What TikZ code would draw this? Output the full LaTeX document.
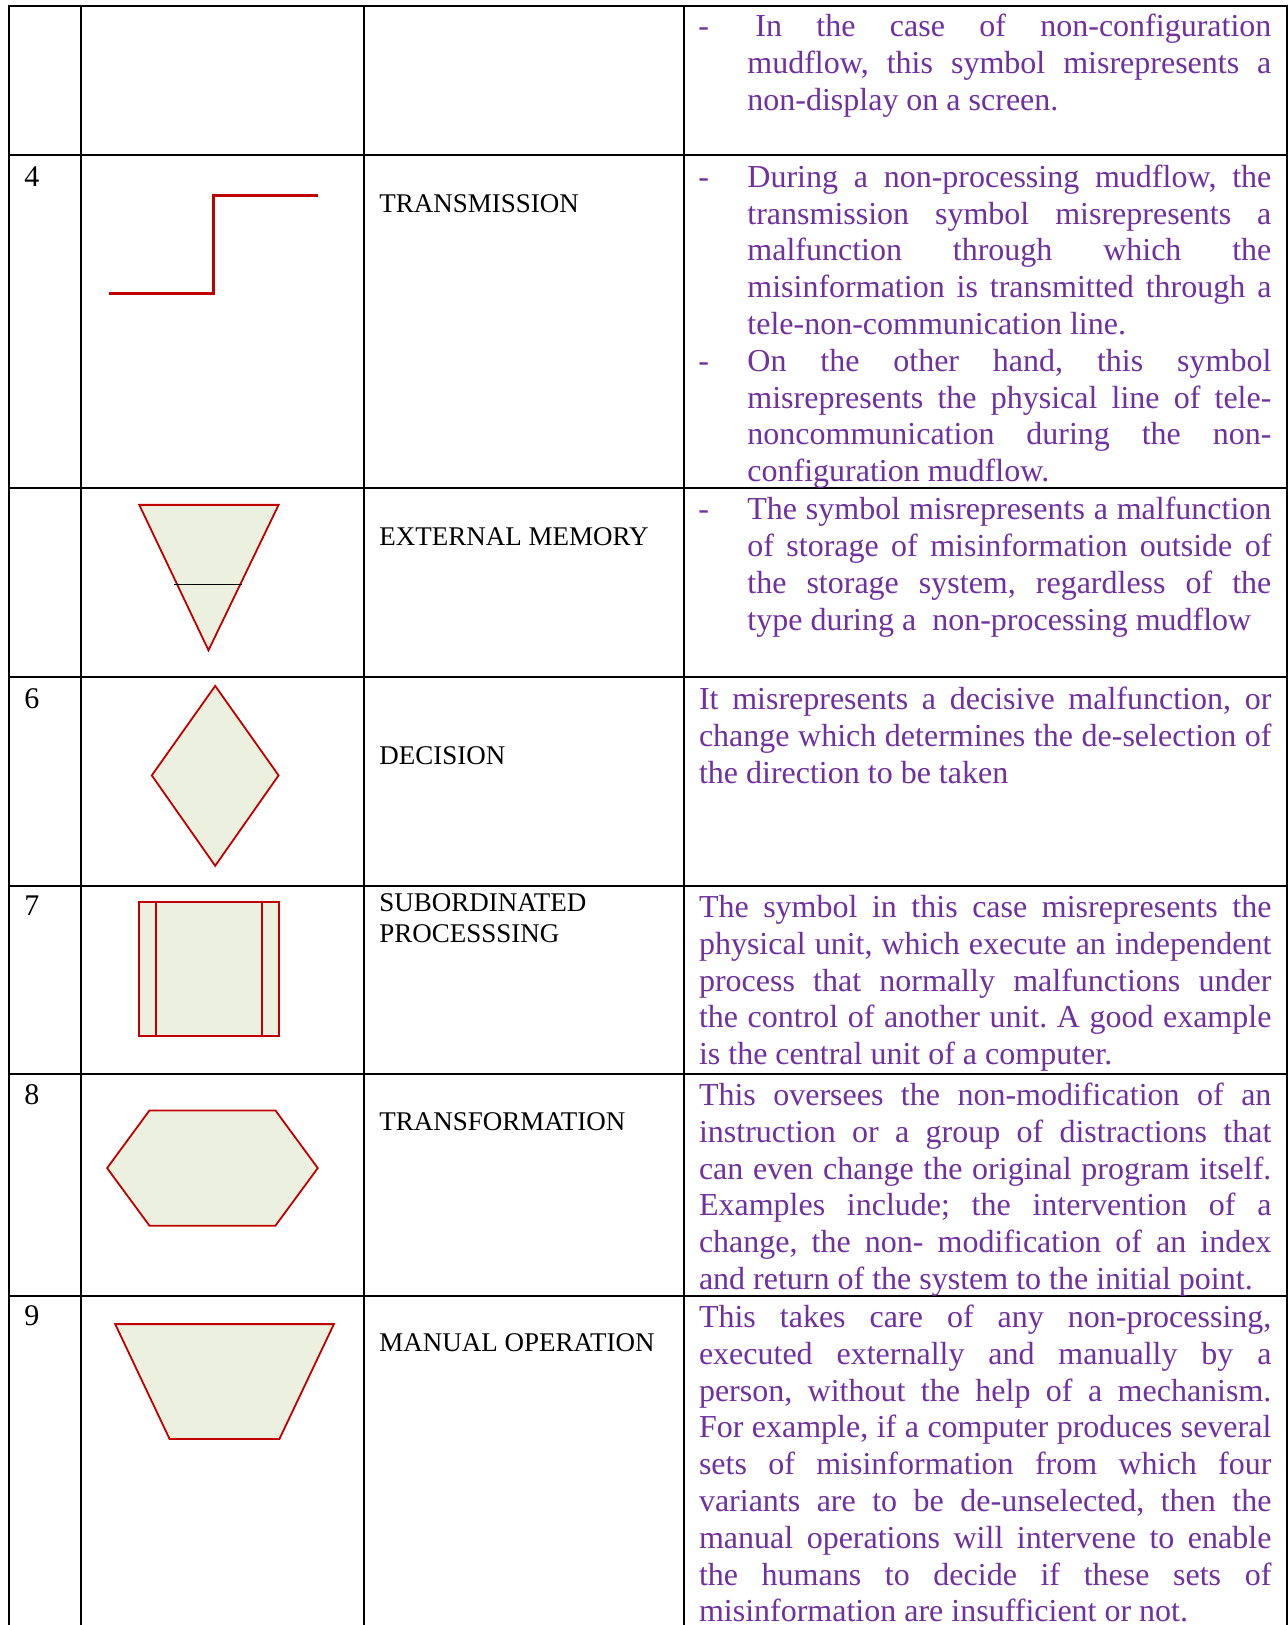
\documentclass[tikz,border=0pt]{standalone}
\usepackage{fontspec}
\setmainfont{Liberation Serif}
\frenchspacing
\definecolor{purp}{HTML}{7030A0}
\definecolor{symred}{HTML}{C00000}
\definecolor{symfill}{HTML}{EBF1DE}
\newcommand\jline[1]{\makebox[\linewidth][s]{#1}\par}
\newcommand\lline[1]{#1\par}
\begin{document}
\begin{tikzpicture}[x=0.5pt,y=-0.5pt,
  grid/.style={draw=black,line width=1pt},
  symb/.style={draw=symred,fill=symfill,line width=0.9pt,line join=miter},
  desc/.style={anchor=base west,inner sep=0pt,text=purp,font=\frenchspacing\fontsize{16pt}{18.4pt}\selectfont},
  lbl/.style={anchor=base west,inner sep=0pt,text=black,font=\fontsize{13.5pt}{15.5pt}\selectfont},
  num/.style={anchor=base west,inner sep=0pt,text=black,font=\fontsize{15pt}{18pt}\selectfont}]
\useasboundingbox (0,0) rectangle (1288,1625);
\fill[white] (0,0) rectangle (1288,1625);

% table grid
\foreach \y in {6,155.5,488.5,677,885.5,1073.5,1295.5}
  \draw[grid] (8,\y) -- (1287.5,\y);
\foreach \x in {9,81,364,684,1286.5}
  \draw[grid] (\x,5) -- (\x,1625);

% numbers
\node[num] (n4) at (24,186.5) {4};
\node[num] (n6) at (24,708.5) {6};
\node[num] (n7) at (24,915.5) {7};
\node[num] (n8) at (24,1104) {8};
\node[num] (n9) at (24,1325.5) {9};

% symbols
\draw[symred,line width=1.6pt,line join=miter] (109,293.3) -- (213.4,293.3) -- (213.4,195.7) -- (317.8,195.7);
\draw[symb] (139.3,504.9) -- (278.6,504.9) -- (208.5,650.3) -- cycle;
\draw[black,line width=0.9pt] (174,584.5) -- (242,584.5);
\draw[symb] (215.2,685.9) -- (278.6,775.4) -- (215.2,865.8) -- (151.8,775.4) -- cycle;
\draw[symb] (139.3,901.7) rectangle (278.6,1035.7);
\draw[symred,line width=0.9pt] (155.8,901.7) -- (155.8,1035.7);
\draw[symred,line width=0.9pt] (261.6,901.7) -- (261.6,1035.7);
\draw[symb] (149.5,1110.4) -- (275.4,1110.4) -- (317.8,1168.1) -- (275.4,1225.7) -- (149.5,1225.7) -- (107.1,1168.1) -- cycle;
\draw[symb] (115.2,1324.1) -- (333.9,1324.1) -- (279.4,1439) -- (169.6,1439) -- cycle;

% labels
\node[lbl] (l4) at (379,212.3) {TRANSMISSION};
\node[lbl] (l5) at (379,545.8) {EXTERNAL MEMORY};
\node[lbl] (l6) at (379,764.7) {DECISION};
\node[lbl] (l7) at (379,911.3) {\parbox[t]{280pt}{SUBORDINATED\\PROCESSSING}};
\node[lbl] (l8) at (379,1130.3) {TRANSFORMATION};
\node[lbl] (l9) at (379,1351.8) {MANUAL OPERATION};

% descriptions
\node[desc] (b1) at (698,36.5) {-};
\node[desc] (d1) at (747,36.5) {\parbox[t]{262pt}{%
\jline{\hspace*{4pt}In the case of non-configuration}%
\jline{mudflow, this symbol misrepresents a}%
\lline{non-display on a screen.}}};

\node[desc] (b4a) at (698,187.3) {-};
\node[desc] (b4b) at (698,371.3) {-};
\node[desc] (d4) at (747,187.3) {\parbox[t]{262pt}{%
\jline{During a non-processing mudflow, the}%
\jline{transmission symbol misrepresents a}%
\jline{malfunction through which the}%
\jline{misinformation is transmitted through a}%
\lline{tele-non-communication line.}%
\jline{On the other hand, this symbol}%
\jline{misrepresents the physical line of tele-}%
\jline{noncommunication during the non-}%
\lline{configuration mudflow.}}};

\node[desc] (b5) at (698,520) {-};
\node[desc] (d5) at (747,520) {\parbox[t]{262pt}{%
\jline{The symbol misrepresents a malfunction}%
\jline{of storage of misinformation outside of}%
\jline{the storage system, regardless of the}%
\lline{type during a\ \ non-processing mudflow}}};

\node[desc] (d6) at (698.6,709.5) {\parbox[t]{286.2pt}{%
\jline{It misrepresents a decisive malfunction, or}%
\jline{change which determines the de-selection of}%
\lline{the direction to be taken}}};

\node[desc] (d7) at (698.6,917.5) {\parbox[t]{286.2pt}{%
\jline{The symbol in this case misrepresents the}%
\jline{physical unit, which execute an independent}%
\jline{process that normally malfunctions under}%
\jline{the control of another unit. A good example}%
\lline{is the central unit of a computer.}}};

\node[desc] (d8) at (698.6,1105.5) {\parbox[t]{286.2pt}{%
\jline{This oversees the non-modification of an}%
\jline{instruction or a group of distractions that}%
\jline{can even change the original program itself.}%
\jline{Examples include; the intervention of a}%
\jline{change, the non- modification of an index}%
\lline{and return of the system to the initial point.}}};

\node[desc] (d9) at (698.6,1327.5) {\parbox[t]{286.2pt}{%
\jline{This takes care of any non-processing,}%
\jline{executed externally and manually by a}%
\jline{person, without the help of a mechanism.}%
\jline{For example, if a computer produces several}%
\jline{sets of misinformation from which four}%
\jline{variants are to be de-unselected, then the}%
\jline{manual operations will intervene to enable}%
\jline{the humans to decide if these sets of}%
\lline{misinformation are insufficient or not.}}};
\end{tikzpicture}
\end{document}
